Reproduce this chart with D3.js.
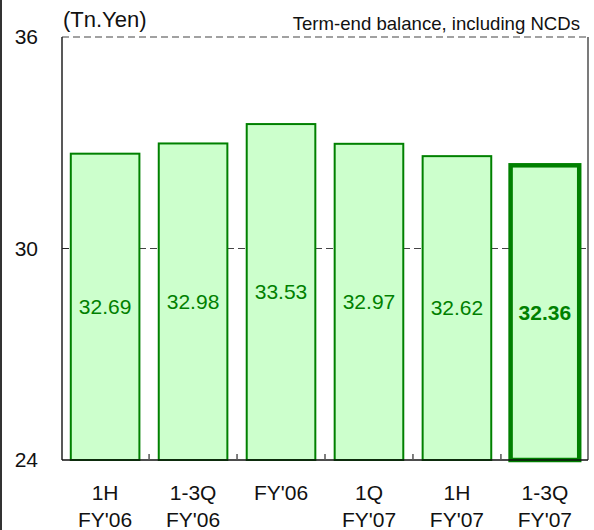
<!DOCTYPE html>
<html lang="en">
  <head>
    <meta charset="utf-8">
    <title>Term-end balance</title>
    <script src="https://cdnjs.cloudflare.com/ajax/libs/d3/7.8.5/d3.min.js" charset="utf-8"></script>
    <style type="text/css">
    body { margin: 0; background: #fff; }
    text { font-family: "Liberation Sans", Arial, sans-serif; }
    </style>
  </head>
  <body>
    <script type="text/javascript">
    // data
    var periods = ["1H", "1-3Q", "FY'06", "1Q", "1H", "1-3Q"];
    var years = ["FY'06", "FY'06", "", "FY'07", "FY'07", "FY'07"];
    var balance = [32.69, 32.98, 33.53, 32.97, 32.62, 32.36];
    var yTicks = [24, 30, 36];

    var w = 594, h = 530;
    // plot box (note: "top" is reserved on window, so prefix these)
    var pLeft = 62, pRight = 588, pTop = 37, pBottom = 460;

    var svg = d3.select("body").append("svg")
      .attr("width", w)
      .attr("height", h);

    // outer left frame line
    svg.append("line")
      .attr("x1", 1).attr("x2", 1).attr("y1", 0).attr("y2", h)
      .attr("stroke", "#333").attr("stroke-width", 2);

    var x = d3.scaleBand()
      .domain(d3.range(balance.length))
      .range([pLeft, pRight])
      .paddingInner(0.22)
      .paddingOuter(0.1);

    var y = d3.scaleLinear().domain([24, 36]).range([pBottom, pTop]);

    // dashed grid lines (30 and 36)
    svg.selectAll("line.grid")
      .data(yTicks.filter(function(d) { return d > 24; }))
      .enter().append("line")
      .attr("class", "grid")
      .attr("x1", pLeft).attr("x2", pRight)
      .attr("y1", function(d) { return y(d); })
      .attr("y2", function(d) { return y(d); })
      .attr("stroke", "#444")
      .attr("stroke-width", 1.2)
      .attr("stroke-dasharray", "7,4");

    // bars
    var last = balance.length - 1;
    svg.selectAll("rect")
      .data(balance)
      .enter().append("rect")
      .attr("x", function(d, i) { return x(i); })
      .attr("y", function(d) { return y(d); })
      .attr("width", x.bandwidth())
      .attr("height", function(d) { return y(24) - y(d); })
      .attr("fill", "#ccffcc")
      .attr("stroke", "#008000")
      .attr("stroke-width", function(d, i) { return i == last ? 4.5 : 2; });

    // side frame lines
    svg.append("line")
      .attr("x1", pLeft).attr("x2", pLeft).attr("y1", pTop).attr("y2", pBottom)
      .attr("stroke", "#222").attr("stroke-width", 1.5);
    svg.append("line")
      .attr("x1", pRight).attr("x2", pRight).attr("y1", pTop).attr("y2", pBottom)
      .attr("stroke", "#222").attr("stroke-width", 1.2);

    // tick mark on y at the 30 gridline
    svg.selectAll("line.ytick")
      .data([30])
      .enter().append("line")
      .attr("class", "ytick")
      .attr("x1", pLeft).attr("x2", pLeft + 7)
      .attr("y1", function(d) { return y(d); })
      .attr("y2", function(d) { return y(d); })
      .attr("stroke", "#222");

    // bottom axis with inner ticks between bars
    svg.append("line")
      .attr("x1", pLeft).attr("x2", pRight).attr("y1", pBottom).attr("y2", pBottom)
      .attr("stroke", "#111").attr("stroke-width", 1.5);
    var step = x.step();
    svg.selectAll("line.xtick")
      .data(d3.range(1, balance.length))
      .enter().append("line")
      .attr("class", "xtick")
      .attr("x1", function(i) { return x(i) - step * x.paddingInner() / 2; })
      .attr("x2", function(i) { return x(i) - step * x.paddingInner() / 2; })
      .attr("y1", pBottom).attr("y2", pBottom - 6)
      .attr("stroke", "#555").attr("stroke-width", 1.5);

    // y tick labels
    svg.selectAll("text.ylab")
      .data(yTicks)
      .enter().append("text")
      .attr("class", "ylab")
      .attr("x", 38)
      .attr("y", function(d) { return y(d); })
      .attr("dy", "0.35em")
      .attr("text-anchor", "end")
      .attr("font-size", "21px")
      .attr("fill", "#111")
      .text(function(d) { return d; });

    // value labels in the middle of each bar
    svg.selectAll("text.val")
      .data(balance)
      .enter().append("text")
      .attr("class", "val")
      .attr("x", function(d, i) { return x(i) + x.bandwidth() / 2; })
      .attr("y", function(d) { return (y(d) + y(24)) / 2; })
      .attr("dy", "0.35em")
      .attr("text-anchor", "middle")
      .attr("font-size", "21px")
      .attr("font-weight", function(d, i) { return i == last ? "bold" : "normal"; })
      .attr("fill", "#008000")
      .text(function(d) { return d.toFixed(2); });

    // category labels, two lines
    var cat = svg.selectAll("text.cat")
      .data(periods)
      .enter().append("text")
      .attr("class", "cat")
      .attr("text-anchor", "middle")
      .attr("font-size", "21px")
      .attr("fill", "#111");
    cat.append("tspan")
      .attr("x", function(d, i) { return x(i) + x.bandwidth() / 2; })
      .attr("y", 500)
      .text(function(d) { return d; });
    cat.append("tspan")
      .attr("x", function(d, i) { return x(i) + x.bandwidth() / 2; })
      .attr("y", 527)
      .text(function(d, i) { return years[i]; });

    // unit and note
    svg.append("text")
      .attr("x", pLeft + 1).attr("y", 27)
      .attr("font-size", "22px")
      .attr("fill", "#111")
      .text("(Tn.Yen)");
    svg.append("text")
      .attr("x", 580).attr("y", 30)
      .attr("text-anchor", "end")
      .attr("font-size", "18.6px")
      .attr("fill", "#111")
      .text("Term-end balance, including NCDs");
    </script>
  </body>
</html>
